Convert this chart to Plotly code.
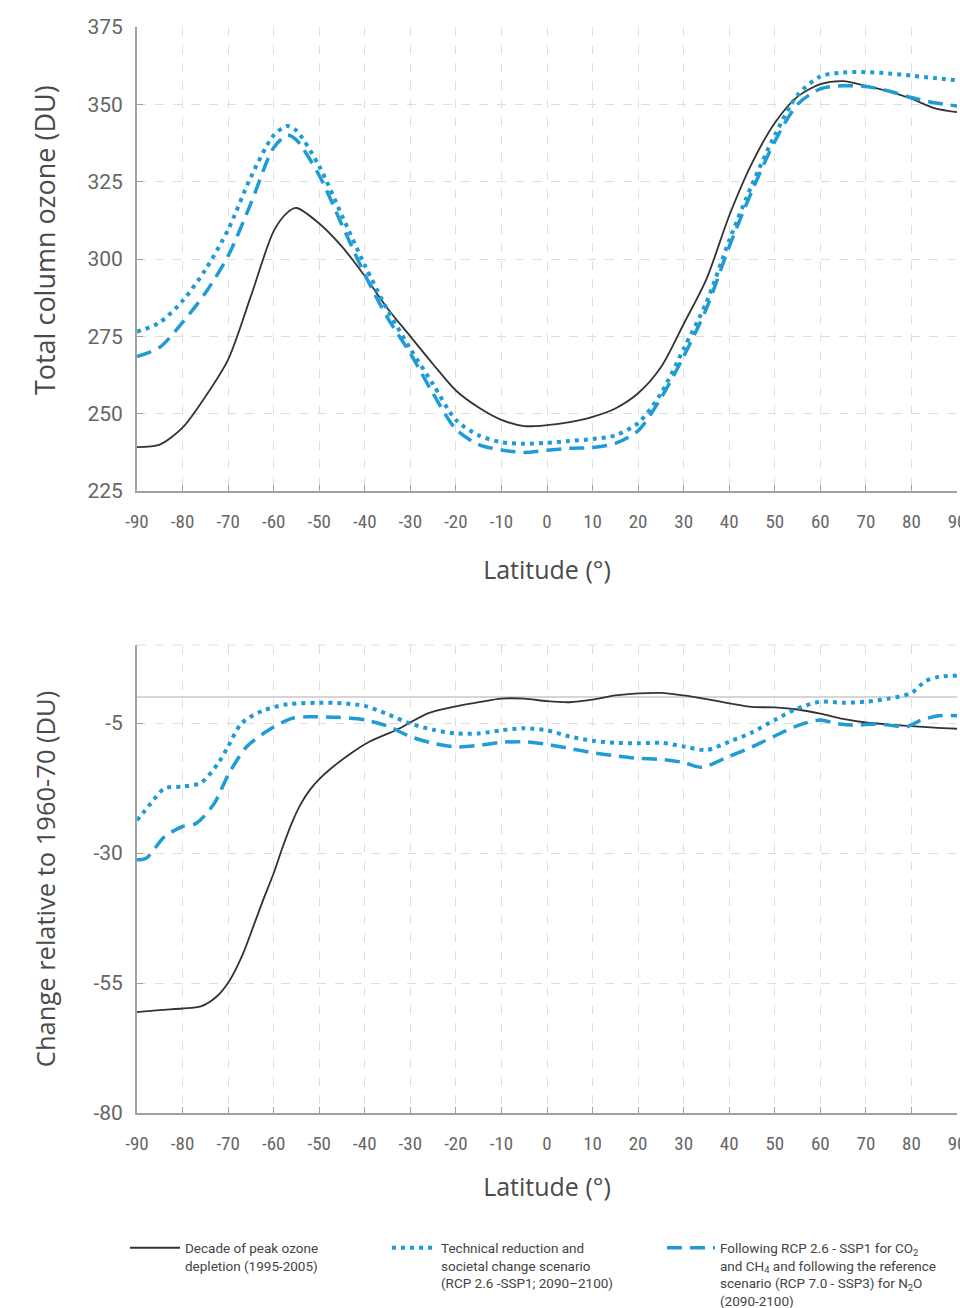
import plotly.graph_objects as go

# ---------------- data ----------------
lat_top = [-90, -85, -80, -75, -70, -65, -60, -57, -55, -50, -45, -40, -35, -30, -25, -20, -15, -10, -5, 0,
           5, 10, 15, 20, 25, 30, 35, 40, 45, 50, 55, 60, 65, 70, 75, 80, 85, 90]
top_peak = [239.2, 240.0, 245.5, 255.5, 267.5, 288.0, 309.0, 315.0, 316.5, 311.5, 304.0, 294.5, 284.0, 275.0,
            266.0, 257.5, 252.0, 248.0, 246.0, 246.3, 247.3, 249.0, 251.7, 256.6, 265.0, 279.0, 293.5, 314.0,
            331.0, 344.0, 352.5, 356.5, 357.5, 356.0, 354.2, 351.8, 348.8, 347.5]
top_ssp1 = [276.5, 279.5, 286.5, 296.5, 309.5, 326.5, 340.0, 343.0, 341.5, 330.0, 314.0, 298.0, 283.5, 271.0,
            259.5, 248.0, 243.0, 240.8, 240.3, 240.6, 241.2, 241.8, 243.0, 247.0, 256.5, 271.0, 286.0, 306.0,
            324.0, 340.0, 353.0, 359.0, 360.3, 360.4, 360.0, 359.3, 358.5, 357.8]
top_n2o = [268.5, 271.5, 279.5, 289.0, 301.0, 318.0, 336.0, 340.0, 338.5, 327.0, 311.0, 295.0, 281.0, 269.5,
           256.5, 245.0, 240.0, 238.3, 237.5, 238.2, 238.8, 239.1, 240.4, 244.5, 255.0, 268.5, 284.0, 304.0,
           322.0, 338.0, 350.0, 355.0, 356.0, 355.8, 354.3, 352.2, 350.5, 349.5]

lat_peak_chg = [-90, -85, -80, -76, -72.5, -69.6, -66.7, -64.5, -62.3, -60, -58, -56, -54, -52, -50, -47.5,
                -43, -39, -33, -26, -20, -15, -10, -5, 0, 5, 10, 15, 20, 25, 30, 35, 40, 45, 50, 55, 60, 65,
                70, 75, 80, 85, 90]
chg_peak = [-60.6, -60.2, -59.9, -59.5, -57.6, -54.4, -49.3, -44.2, -39.0, -33.9, -28.8, -24.2, -20.5, -17.8,
            -15.8, -13.8, -10.8, -8.6, -6.3, -3.1, -1.8, -1.0, -0.3, -0.3, -0.8, -1.0, -0.5, 0.3, 0.7, 0.8,
            0.3, -0.4, -1.2, -1.9, -2.0, -2.4, -3.2, -4.2, -4.9, -5.3, -5.6, -5.9, -6.1]

lat_ssp1_chg = [-90, -87, -84, -80, -76, -72, -70, -67, -62, -57, -50, -45, -40, -35, -30, -25, -20, -15, -10,
                -5, 0, 5, 10, 15, 20, 25, 30, 35, 40, 45, 50, 55, 60, 65, 70, 75, 80, 83, 86, 90]
chg_ssp1 = [-23.7, -20.5, -17.6, -17.2, -16.5, -12.5, -9.5, -5.0, -2.5, -1.4, -1.1, -1.2, -1.7, -3.3, -5.1,
            -6.3, -7.0, -7.0, -6.4, -6.0, -6.4, -7.6, -8.4, -8.8, -8.9, -8.8, -9.5, -10.2, -8.6, -6.8, -4.4,
            -2.2, -0.9, -1.1, -0.9, -0.3, 0.8, 3.0, 3.9, 4.1]

lat_n2o_chg = [-90, -88, -84, -80, -77, -73, -70, -66, -61, -56, -52, -46, -40, -35, -30, -25, -20, -15, -10,
               -5, 0, 5, 10, 15, 20, 25, 30, 34, 40, 45, 50, 55, 60, 63, 67, 73, 79, 82, 86, 90]
chg_n2o = [-31.3, -31.0, -26.9, -24.9, -24.3, -20.4, -15.0, -9.6, -6.3, -4.1, -3.8, -3.9, -4.4, -5.6, -7.6,
           -8.9, -9.6, -9.3, -8.7, -8.6, -9.1, -9.9, -10.7, -11.3, -11.8, -12.0, -12.6, -13.5, -11.4, -9.6,
           -7.5, -5.5, -4.4, -5.0, -5.4, -5.2, -5.7, -4.5, -3.6, -3.6]

names = [
    "Decade of peak ozone<br>depletion (1995-2005)",
    "Technical reduction and<br>societal change scenario<br>(RCP 2.6 -SSP1; 2090\u20132100)",
    "Following RCP 2.6 - SSP1 for CO<sub>2</sub><br>and CH<sub>4</sub> and following the reference<br>"
    "scenario (RCP 7.0 - SSP3) for N<sub>2</sub>O<br>(2090-2100)",
]

top_ticks = [225, 250, 275, 300, 325, 350, 375]
bot_ticks = [-80, -55, -30, -5]
bot_ticktext = ["-80", "-55", "-30", "-5"]
lat_ticks = list(range(-90, 91, 10))

top_ytitle = "Total column ozone (DU)"
bot_ytitle = "Change relative to 1960-70 (DU)"
xtitle = "Latitude (\u00b0)"

# ---------------- styles ----------------
BLUE = "#1f9bd5"
BLACK = "#333333"
line_styles = [
    dict(color=BLACK, width=1.8, shape="spline", smoothing=0.8),
    dict(color=BLUE, width=4, dash="4px,5px", shape="spline", smoothing=0.8),
    dict(color=BLUE, width=3.5, dash="15px,8px", shape="spline", smoothing=0.8),
]
legend_ids = ["legend", "legend2", "legend3"]

fig = go.Figure()
top_series = [top_peak, top_ssp1, top_n2o]
for i, ys in enumerate(top_series):
    fig.add_trace(go.Scatter(x=lat_top, y=ys, mode="lines", line=line_styles[i], name=names[i],
                             legendgroup=str(i), showlegend=True, legend=legend_ids[i],
                             xaxis="x", yaxis="y"))
bot_x = [lat_peak_chg, lat_ssp1_chg, lat_n2o_chg]
bot_y = [chg_peak, chg_ssp1, chg_n2o]
for i in range(3):
    fig.add_trace(go.Scatter(x=bot_x[i], y=bot_y[i], mode="lines", line=line_styles[i], name=names[i],
                             legendgroup=str(i), showlegend=False, xaxis="x2", yaxis="y2"))

TITLE_FONT = dict(family="'Open Sans', Roboto, sans-serif", size=25, color="#4a4a4a")
COND = "'Roboto Condensed', 'Liberation Sans Narrow', 'DejaVu Sans Condensed', Roboto, sans-serif"
XTICK_FONT = dict(family=COND, size=19, color="#666666")
YTICK_FONT = dict(family="Roboto, sans-serif", size=21, color="#666666")
LEG_FONT = dict(family="Roboto, sans-serif", size=13.5, color="#444444")

common_x = dict(range=[-90, 90], tickmode="array", tickvals=lat_ticks, ticktext=[str(v) for v in lat_ticks],
                showline=True, linecolor="#a0a0a0", linewidth=2, ticks="inside", ticklen=6, tickcolor="#a0a0a0",
                showgrid=True, gridcolor="#dedede", griddash="dash", gridwidth=1, zeroline=False,
                tickfont=XTICK_FONT, ticklabelstandoff=12, automargin=False, ticklabeloverflow="allow")
common_y = dict(showline=True, linecolor="#a0a0a0", linewidth=2, ticks="inside", ticklen=6, tickcolor="#a0a0a0",
                showgrid=True, gridcolor="#dedede", griddash="dash", gridwidth=1,
                tickfont=YTICK_FONT, ticklabelstandoff=8, automargin=False)


def leg(x_px, itemwidth):
    return dict(orientation="v", x=(x_px - 137) / 820, xanchor="left", y=-0.11, yanchor="top",
                itemwidth=itemwidth, valign="top", font=LEG_FONT, bgcolor="rgba(0,0,0,0)")


fig.update_layout(
    width=960, height=1308,
    margin=dict(l=137, r=3, t=27, b=195, autoexpand=False),
    paper_bgcolor="white", plot_bgcolor="white",
    showlegend=True,
    xaxis=dict(common_x, domain=[0, 1], anchor="y",
               title=dict(text=xtitle, font=TITLE_FONT, standoff=30)),
    yaxis=dict(common_y, domain=[0.5727, 1], anchor="x", range=[225, 375], tickmode="array",
               tickvals=top_ticks, zeroline=False),
    xaxis2=dict(common_x, domain=[0, 1], anchor="y2",
                title=dict(text=xtitle, font=TITLE_FONT, standoff=25)),
    yaxis2=dict(common_y, domain=[0, 0.4309], anchor="x2", range=[-80, 10], tickmode="array",
                tickvals=bot_ticks, ticktext=bot_ticktext, zeroline=True, zerolinecolor="#d6d6d6",
                zerolinewidth=1.5),
    legend=leg(125, 50),
    legend2=leg(387, 44),
    legend3=leg(662, 48),
    annotations=[
        dict(text=top_ytitle, xref="paper", yref="paper", x=-0.112, y=0.8039, xanchor="center",
             yanchor="middle", textangle=-90, showarrow=False, font=dict(TITLE_FONT, size=27)),
        dict(text=bot_ytitle, xref="paper", yref="paper", x=-0.112, y=0.2155, xanchor="center",
             yanchor="middle", textangle=-90, showarrow=False, font=dict(TITLE_FONT, size=25.5)),
    ],
    shapes=[dict(type="line", xref="x2 domain", yref="y2 domain", x0=0, x1=1, y0=1, y1=1,
                 line=dict(color="#dedede", width=1, dash="dash"), layer="below")],
)

fig.write_html("out.html")
